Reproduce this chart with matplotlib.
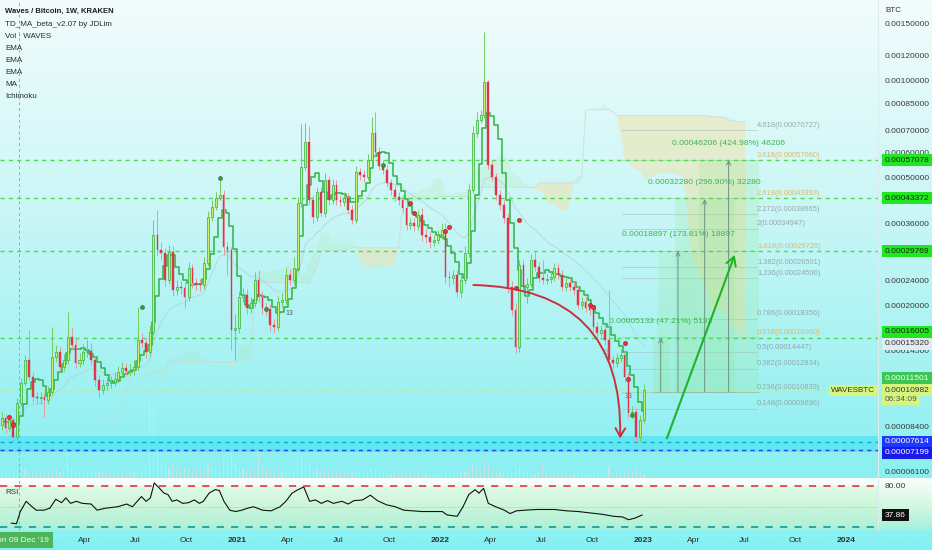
import numpy as np
import pandas as pd
import matplotlib
matplotlib.use('Agg')
import matplotlib.pyplot as plt
import matplotlib.dates as mdates
import matplotlib.transforms as mtransforms
from matplotlib.colors import to_rgb
from matplotlib.patches import Rectangle

# ---------------- data (candle prices in satoshi = 1e-8 BTC) ----------------
first_week = '2019-11-04'
first_open = 8600
closes = [
    9020, 8400, 8890, 7880, 10040, 11580, 13650, 12090, 10480, 10400,
    10450, 10260, 10860, 13950, 14460, 12980, 13650, 16090, 15200, 13360,
    13650, 14460, 14560, 13650, 11830, 11020, 11410, 11580, 11670, 11920,
    12530, 12890, 12620, 12710, 12980, 15750, 15420, 14460, 16680, 33390,
    29990, 29350, 24200, 29560, 22530, 23020, 22860, 21430, 26370, 23690,
    23400, 23350, 27330, 37970, 40790, 43500, 44440, 30640, 29990, 16920,
    17200, 21430, 21740, 19800, 20530, 24200, 21430, 19800, 19700, 17540,
    17300, 20670, 20970, 25080, 24200, 26370, 41970, 54290, 64960, 42880,
    37970, 45410, 39070, 49480, 42880, 47740, 42880, 42270, 43500, 39920,
    37170, 52390, 51270, 50540, 57080, 69200, 60430, 54680, 53140, 48430,
    46060, 43810, 42880, 40500, 35870, 36380, 35500, 38520, 33390, 32920,
    31750, 32210, 33390, 34600, 24720, 24550, 25080, 22210, 24200, 29350,
    46060, 69200, 76000, 78500, 99670, 55080, 50540, 44440, 41380, 37700,
    23020, 19520, 14980, 26950, 23020, 23500, 27920, 26560, 24550, 24200,
    24370, 24720, 26370, 25080, 23020, 23690, 23020, 22530, 20230, 20670,
    19800, 19520, 17300, 16560, 16920, 15750, 13650, 13360, 13850, 14150,
    12090, 9350, 9400, 7880, 8890, 10982]
highs = [
    9400, 9300, 9200, 9100, 10400, 12000, 14200, 16920, 12500, 10900,
    10900, 10800, 11300, 17300, 15200, 15000, 14300, 19250, 17200, 15900,
    14400, 15300, 15700, 15400, 14100, 12300, 11900, 12100, 12200, 12500,
    13100, 13500, 13400, 13300, 13700, 19980, 16600, 16000, 17500, 37170,
    39920, 31800, 30500, 31000, 30800, 24200, 24000, 23800, 27500, 27200,
    24600, 24300, 28600, 39500, 42800, 45500, 50540, 46000, 31800, 30600,
    19000, 22400, 22800, 22700, 21500, 25600, 26000, 22400, 20600, 20400,
    18300, 21600, 22000, 26400, 26200, 28500, 43800, 73800, 74300, 72700,
    44500, 47000, 47200, 52000, 51000, 50000, 49500, 44500, 45300, 45000,
    41500, 54500, 54000, 53000, 59500, 77700, 80300, 62500, 57000, 55000,
    50000, 47800, 45400, 44300, 42000, 37800, 37800, 40000, 40500, 34800,
    34200, 33500, 34700, 36500, 36300, 25800, 26000, 26000, 25000, 30800,
    48000, 73000, 80500, 81500, 142500, 101500, 57000, 52000, 46000, 43000,
    39000, 24000, 20500, 28000, 28000, 24500, 29200, 29500, 27500, 27900,
    25300, 25600, 27400, 27300, 25900, 24600, 24500, 24000, 23300, 21500,
    21400, 20400, 20100, 17900, 17500, 17500, 22530, 14200, 14400, 14800,
    14700, 12500, 9800, 9700, 9200, 11500]
lows = [
    8300, 8100, 8200, 7600, 7700, 9800, 11300, 11800, 10100, 10000,
    10000, 9080, 10000, 10600, 13500, 12500, 12600, 13300, 14700, 12900,
    13000, 13200, 14000, 13200, 11300, 10410, 10700, 11000, 11200, 11300,
    11600, 12200, 12200, 12200, 12300, 12700, 14900, 13900, 14000, 16300,
    28800, 28000, 23200, 23500, 21600, 21800, 21900, 19800, 20800, 22900,
    22500, 22300, 22700, 26800, 37000, 40000, 42800, 29000, 25000, 14670,
    13650, 16600, 20700, 19000, 19100, 20000, 20700, 19000, 18900, 16800,
    16600, 16800, 20000, 20400, 23300, 23500, 25700, 40800, 53000, 41500,
    36500, 36800, 38000, 38000, 41500, 41600, 41500, 41000, 41000, 38800,
    36000, 36400, 49500, 48900, 49500, 56000, 58500, 53000, 51500, 47000,
    44500, 42500, 41400, 39000, 34500, 34800, 34300, 34500, 32000, 31500,
    30500, 30800, 31200, 32400, 23700, 23000, 23600, 21400, 21200, 23500,
    28500, 45000, 67500, 74500, 77000, 53500, 49000, 43000, 40000, 36500,
    22000, 18800, 14350, 14500, 22000, 20500, 23000, 25800, 23800, 23500,
    23500, 23700, 24000, 24300, 22300, 22300, 22300, 21800, 19600, 19700,
    19200, 18900, 16700, 16000, 16200, 15200, 13200, 12900, 13000, 13500,
    11700, 9000, 9000, 7614, 7650, 8700]
volume = [
    6, 5, 7, 6, 8, 12, 9, 7, 6, 5,
    5, 6, 5, 8, 7, 6, 9, 25, 10, 8,
    7, 6, 5, 6, 8, 7, 6, 5, 6, 5,
    5, 6, 5, 6, 7, 9, 8, 12, 82, 70,
    30, 15, 12, 10, 14, 9, 8, 10, 9, 8,
    7, 8, 9, 14, 12, 10, 9, 20, 18, 25,
    15, 10, 9, 8, 7, 9, 28, 10, 8, 9,
    7, 8, 7, 9, 8, 10, 18, 22, 16, 14,
    10, 9, 8, 7, 8, 7, 6, 6, 5, 6,
    7, 9, 6, 6, 7, 10, 9, 7, 6, 6,
    5, 6, 5, 5, 7, 6, 5, 6, 5, 5,
    5, 5, 4, 5, 8, 6, 5, 5, 6, 7,
    10, 14, 10, 8, 16, 12, 8, 7, 6, 6,
    9, 8, 12, 10, 7, 6, 6, 5, 6, 15,
    6, 5, 5, 5, 5, 5, 4, 5, 6, 5,
    4, 5, 5, 5, 4, 5, 12, 5, 5, 5,
    6, 8, 6, 9, 7, 4]

# RSI (week index from first_week, value)
rsi_week = [2.5, 3.8, 4.8, 6.3, 7.8, 8.9, 10.9, 12.4, 13.9, 15.4, 16.5, 17.7, 19.2, 20.7,
            23.0, 24.5, 26.8, 29.8, 32.1, 33.6, 35.9, 37.1, 38.2, 39.2, 40.4, 41.7, 42.7,
            43.8, 45.0, 46.5, 48.0, 49.5, 50.8, 51.8, 53.3, 54.8, 55.9, 57.1, 58.6, 60.1,
            61.7, 63.2, 64.7, 67.0, 69.2, 71.5, 73.0, 74.6, 76.1, 77.6, 79.1, 80.6, 82.1,
            83.7, 85.2, 87.4, 89.0, 90.5, 92.7, 94.7, 96.5, 98.8, 101.1, 103.3, 105.6,
            107.9, 110.9, 113.2, 114.4, 117.0, 118.5, 120.0, 121.6, 122.6, 123.8, 125.0,
            126.9, 129.1, 130.6, 132.2, 134.5, 137.5, 142.0, 145.1, 148.1, 151.1, 154.2,
            157.2, 159.5, 161.0, 162.5, 164.5]
rsi_value = [26, 25, 43, 58, 50, 45, 45, 48, 61, 56, 63, 55, 58, 55,
             54, 45, 48, 50, 54, 50, 65, 58, 63, 85, 78, 70, 68,
             58, 60, 55, 56, 60, 55, 58, 70, 75, 74, 58, 45, 43,
             45, 48, 50, 45, 44, 50, 58, 70, 75, 79, 58, 60, 55,
             59, 55, 58, 54, 59, 60, 67, 59, 53, 50, 45, 44,
             43, 43, 43, 38, 36, 50, 68, 75, 70, 77, 55,
             50, 45, 40, 44, 45, 46, 46, 44, 43, 41, 39,
             36, 35, 31, 33, 37.86]

# TD setup markers (week index, price in satoshi)
red_dot_week = [2, 3, 105, 106, 114, 115, 132, 133, 151, 152, 160, 161]
red_dot_price = [9080, 8580, 41960, 39070, 34270, 35380, 22860, 37170, 20230, 20000, 15420, 11940]
green_dot_week = [36, 56, 68, 98, 162]
green_dot_price = [19980, 50130, 19670, 55050, 9230]
td13_week = [74, 155, 161]
td13_price = [19100, 14400, 10490]

# drawn levels and tools (BTC)
green_levels = [0.00057078, 0.00043372, 0.00029769, 0.00016005]
support_levels = [0.00007614, 0.00007199]
support_band = (0.0000707, 0.0000794)
last_price = 0.00010982

fib_ratios = ['4.618', '3.618', '2.618', '2.272', '2', '1.618', '1.382', '1.236',
              '0.786', '0.618', '0.5', '0.382', '0.236', '0.148']
fib_prices = ['0.00070727', '0.00057060', '0.00043393', '0.00038665', '0.00034947',
              '0.00029726', '0.00026501', '0.00024506', '0.00018356', '0.00016060',
              '0.00014447', '0.00012834', '0.00010839', '0.00009636']
fib_gold = ['3.618', '2.618', '1.618', '0.618']
fib_span = ('2022-11-24', '2023-07-24')

range_base = 0.00010872
range_tops = [0.00016005, 0.00029769, 0.00043152, 0.00057078]
range_texts = ['0.00005133 (47.21%) 5133', '0.00018897 (173.81%) 18897',
               '0.00032280 (296.90%) 32280', '0.00046206 (424.98%) 46206']
range_dates = ['2023-02-01', '2023-03-04', '2023-04-21', '2023-06-03']
range_half_days = [14, 36, 54, 54]

arc_start = ('2022-03-01', 0.0002335)
arc_end = ('2022-11-20', 0.0000779)
up_start = ('2023-02-12', 0.0000779)
up_end = ('2023-06-14', 0.0002894)

axis_ticks = ['0.00150000', '0.00120000', '0.00100000', '0.00085000', '0.00070000',
              '0.00060000', '0.00050000', '0.00036000', '0.00024000',
              '0.00020000', '0.00014500', '0.00008400', '0.00006100']
tick_dates = ['2020-04-01', '2020-07-01', '2020-10-01', '2021-01-01', '2021-04-01',
              '2021-07-01', '2021-10-01', '2022-01-01', '2022-04-01', '2022-07-01',
              '2022-10-01', '2023-01-01', '2023-04-01', '2023-07-01', '2023-10-01',
              '2024-01-01']
tick_labels = ['Apr', 'Jul', 'Oct', '2021', 'Apr', 'Jul', 'Oct', '2022', 'Apr', 'Jul',
               'Oct', '2023', 'Apr', 'Jul', 'Oct', '2024']
legend_lines = ['TD_MA_beta_v2.07 by JDLim', 'Vol · WAVES', 'EMA', 'EMA', 'EMA', 'MA', 'Ichimoku']

# ---------------- setup ----------------
plt.rcParams['font.family'] = ['Liberation Sans', 'DejaVu Sans']

W, H = 932, 550
MAIN_B, RSI_B = 478, 530
AX_R = 878

fig = plt.figure(figsize=(W / 100, H / 100), dpi=100, facecolor='#86f1f3')

# background gradients
def vgrad(stops, n=256):
    t = np.linspace(0, 1, n)
    pos = [p for p, _ in stops]
    cols = np.array([to_rgb(c) for _, c in stops])
    rgb = np.stack([np.interp(t, pos, cols[:, j]) for j in range(3)], axis=1)
    return rgb[:, None, :]

bg = fig.add_axes([0, 0, 1, 1], zorder=-10)
bg.set_axis_off()
bg.imshow(vgrad([(0, '#f3fcfc'), (0.45, '#c9f6f6'), (1, '#8aeff1')]),
          extent=(0, W, MAIN_B, 0), aspect='auto')
bg.imshow(vgrad([(0, '#fbfffd'), (0.5, '#d6f8e2'), (1, '#a4f1dc')]),
          extent=(0, W, RSI_B, MAIN_B), aspect='auto')
bg.imshow(vgrad([(0, '#8ef2f2'), (1, '#82f0f2')]), extent=(0, W, H, RSI_B), aspect='auto')
bg.plot([AX_R, AX_R], [0, RSI_B], color='#d9eeee', lw=0.8)
bg.set_xlim(0, W)
bg.set_ylim(H, 0)

ax = fig.add_axes([0, 1 - MAIN_B / H, AX_R / W, MAIN_B / H])
ax_rsi = fig.add_axes([0, 1 - RSI_B / H, AX_R / W, (RSI_B - MAIN_B) / H])

px_per_day = 0.5562
anchor = mdates.date2num(pd.Timestamp('2019-12-09'))
xlim = (anchor - 21.1 / px_per_day, anchor + (AX_R - 21.1) / px_per_day)

def d2n(s):
    return mdates.date2num(pd.Timestamp(s))

weeks = pd.date_range(first_week, periods=len(closes), freq='7D')
x = mdates.date2num(weeks)
c = np.array(closes) * 1e-8
o = np.array([first_open] + closes[:-1]) * 1e-8
h = np.array(highs) * 1e-8
l = np.array(lows) * 1e-8
up = c >= o

ax.set_yscale('log')
ax.set_ylim(5.873e-5, 1.7922e-3)
ax.set_xlim(*xlim)
ax.set_axis_off()

# volume
axv = ax.twinx()
axv.set_ylim(0, MAIN_B)
axv.set_xlim(*xlim)
axv.set_axis_off()
axv.set_zorder(ax.get_zorder() - 1)
axv.bar(x, volume, width=2.0, color='#dbe3e5', alpha=0.7, lw=0)

# ichimoku cloud
hs, ls = pd.Series(h), pd.Series(l)
tenkan = (hs.rolling(9, min_periods=1).max() + ls.rolling(9, min_periods=1).min()) / 2
kijun = (hs.rolling(26, min_periods=1).max() + ls.rolling(26, min_periods=1).min()) / 2
span_a = ((tenkan + kijun) / 2).values
span_b = ((hs.rolling(52, min_periods=1).max() + ls.rolling(52, min_periods=1).min()) / 2).values
x_lead = x + 26 * 7
ax.fill_between(x_lead, span_a, span_b, where=span_a >= span_b, interpolate=True,
                color='#a9e7a2', alpha=0.2, lw=0, zorder=1)
ax.fill_between(x_lead, span_a, span_b, where=span_a < span_b, interpolate=True,
                color='#f2e2a6', alpha=0.5, lw=0, zorder=1)
ax.plot(x_lead, span_b, color='#c9d9d6', lw=0.7, alpha=0.7, zorder=1)

# ema (faint)
ema = pd.Series(c).ewm(span=20, adjust=False).mean()
ax.plot(x, ema, color='#b4cbd2', lw=0.8, alpha=0.6, zorder=2)

# support band and levels
ax.axhspan(*support_band, color='#4fe5f2', alpha=0.75, lw=0, zorder=1)
for lev in green_levels:
    ax.axhline(lev, color='#4fdb4f', lw=1.0, dashes=(3, 3), zorder=3)
ax.axhline(support_levels[0], color='#1ba9cf', lw=1.0, dashes=(3, 3), zorder=3)
ax.axhline(support_levels[1], color='#2740e6', lw=1.0, dashes=(3, 3), zorder=3)
ax.axhline(last_price, color='#c6ee72', lw=0.8, dashes=(1, 2), zorder=3)

# crosshair
for a in (ax, ax_rsi):
    a.axvline(anchor - 3, color='#9aa9aa', lw=0.7, dashes=(3, 3), zorder=2)

# fib extension
fx0, fx1 = d2n(fib_span[0]), d2n(fib_span[1])
for r, p in zip(fib_ratios, fib_prices):
    pv = float(p)
    ax.plot([fx0, fx1], [pv, pv], color='#9fb3b1', lw=0.6, alpha=0.55, zorder=2)
    gold = r in fib_gold
    ax.annotate(f'{r}({p})', xy=(fx1, pv), xytext=(0, 1), textcoords='offset points',
                ha='left', va='bottom', fontsize=5.4,
                color='#e2b35a' if gold else '#8fa3a2', alpha=0.9, zorder=4)

# price range tools
for top, txt, d, hw in zip(range_tops, range_texts, range_dates, range_half_days):
    xc = d2n(d)
    ax.add_patch(Rectangle((xc - hw, range_base), 2 * hw, top - range_base,
                           fc='#8fe68f', ec='none', alpha=0.2, zorder=2))
    ax.plot([xc - hw, xc + hw], [range_base, range_base], color='#8fb0a6', lw=0.5, alpha=0.6, zorder=2)
    ax.annotate('', xy=(xc, top), xytext=(xc, range_base),
                arrowprops=dict(arrowstyle='->,head_length=0.3,head_width=0.15',
                                color='#6f9187', lw=0.7, shrinkA=0, shrinkB=0), zorder=3)
    ax.annotate(txt, xy=(xc, top), xytext=(0, 12), textcoords='offset points',
                ha='center', va='center', fontsize=6.1, color='#3fb450', zorder=5)

# TD MA step line
td_line = pd.Series((h + l) / 2).rolling(5, min_periods=1).mean()
ax.step(x, td_line, where='mid', color='#2fb344', lw=1.1, zorder=4)

# candles
ax.vlines(x[up], l[up], h[up], color='#74cc5e', lw=0.7, zorder=5)
ax.vlines(x[~up], l[~up], h[~up], color='#e29aa3', lw=0.7, zorder=5)
bot = np.minimum(o, c)
hgt = np.maximum(np.abs(c - o), bot * 0.01)
ax.bar(x[up], hgt[up], bottom=bot[up], width=3.6, color='#c9f06a',
       edgecolor='#3db548', linewidth=0.55, zorder=6)
ax.bar(x[~up], hgt[~up], bottom=bot[~up], width=3.0, color='#e0344a',
       edgecolor='#e0344a', linewidth=0.3, zorder=6)

# TD markers
w0 = mdates.date2num(pd.Timestamp(first_week))
ax.scatter(w0 + np.array(red_dot_week) * 7, np.array(red_dot_price) * 1e-8, s=9,
           c='#e8343f', edgecolors='#8a2020', linewidths=0.4, zorder=7)
ax.scatter(w0 + np.array(green_dot_week) * 7, np.array(green_dot_price) * 1e-8, s=8,
           c='#3c9a3c', edgecolors='#2a6a2a', linewidths=0.4, zorder=7)
for wk, pp, col in zip(td13_week, td13_price, ['#556060', '#9aa8a8', '#d0404a']):
    ax.text(w0 + wk * 7, pp * 1e-8, '13', fontsize=5.0, color=col, ha='center', va='center', zorder=7)

# drawn arrows
ax.annotate('', xy=(d2n(arc_end[0]), arc_end[1]), xytext=(d2n(arc_start[0]), arc_start[1]),
            arrowprops=dict(arrowstyle='->,head_length=0.6,head_width=0.35', color='#c8323f',
                            lw=1.4, connectionstyle='arc3,rad=-0.5', shrinkA=0, shrinkB=0),
            zorder=8)
ax.annotate('', xy=(d2n(up_end[0]), up_end[1]), xytext=(d2n(up_start[0]), up_start[1]),
            arrowprops=dict(arrowstyle='->,head_length=0.6,head_width=0.35', color='#1db32b',
                            lw=1.5, shrinkA=0, shrinkB=0), zorder=8)

# legend text top-left
fig.text(5 / W, 1 - 11 / H, 'Waves / Bitcoin, 1W, KRAKEN', fontsize=5.5, fontweight='bold',
         color='#1e1e1e', va='center', ha='left')
for n, t in enumerate(legend_lines):
    fig.text(5 / W, 1 - (24 + 12 * n) / H, t, fontsize=5.8, color='#2a2a2a',
             va='center', ha='left')

# right price axis
tr = mtransforms.blended_transform_factory(ax.transAxes, ax.transData)
fig.text(885 / W, 1 - 10 / H, 'BTC', fontsize=5.8, color='#333333', va='center')
for t in axis_ticks:
    ax.annotate(t, xy=(1.0, float(t)), xycoords=tr, xytext=(5, 0), textcoords='offset points',
                ha='left', va='center', fontsize=6.0, color='#3a3a3a',
                annotation_clip=False)

def tag(text, price, fc, tc, dy=0):
    ax.annotate(text, xy=(1.0, price), xycoords=tr, xytext=(5, dy * 0.72),
                textcoords='offset points', ha='left', va='center', fontsize=6.0,
                color=tc, annotation_clip=False, zorder=10,
                bbox=dict(boxstyle='square,pad=0.3', fc=fc, ec='none'))

for lev in green_levels[:3]:
    tag(f'{lev:.8f}', lev, '#22e622', '#0f2a0f')
tag(f'{green_levels[3]:.8f}', green_levels[3], '#22e622', '#0f2a0f', dy=6)
tag('0.00015320', 0.00015320, '#e2ebf2', '#333333')
tag('0.00011501', 0.00011501, '#3cc653', '#f4fff4', dy=6)
tag(f'{last_price:.8f}', last_price, '#d6f57c', '#333333')
tag('06:34:09', last_price, '#d6f57c', '#555555', dy=-9)
tag(f'{support_levels[0]:.8f}', support_levels[0], '#1f38ff', '#ffffff')
tag(f'{support_levels[1]:.8f}', support_levels[1], '#1a1ae6', '#ffffff', dy=-3)
ax.annotate('WAVESBTC', xy=(1.0, last_price), xycoords=tr, xytext=(-2, 0),
            textcoords='offset points', ha='right', va='center', fontsize=5.8,
            color='#333333', annotation_clip=False, zorder=10,
            bbox=dict(boxstyle='square,pad=0.3', fc='#d6f57c', ec='none'))

# RSI pane
ax_rsi.set_xlim(*xlim)
ax_rsi.set_ylim(15.9, 92.2)
ax_rsi.set_axis_off()
ax_rsi.axhspan(20, 80, color='#bdf3c8', alpha=0.3, lw=0)
ax_rsi.axhline(80, color='#e8414f', lw=1.3, dashes=(4, 4))
ax_rsi.axhline(20, color='#1f9e9e', lw=1.3, dashes=(4, 4))
ax_rsi.axhline(50, color='#9fb0ae', lw=0.6, dashes=(1, 2))
ax_rsi.plot(w0 + np.array(rsi_week) * 7, rsi_value, color='#111111', lw=0.8)
ax_rsi.text(5 / AX_R, 0.72, 'RSI', transform=ax_rsi.transAxes, fontsize=5.8,
            color='#333333', va='center')
trr = mtransforms.blended_transform_factory(ax_rsi.transAxes, ax_rsi.transData)
ax_rsi.annotate('80.00', xy=(1.0, 80), xycoords=trr, xytext=(5, 0), textcoords='offset points',
                ha='left', va='center', fontsize=6.0, color='#3a3a3a', annotation_clip=False)
ax_rsi.annotate(f'{rsi_value[-1]:.2f}', xy=(1.0, rsi_value[-1]), xycoords=trr, xytext=(5, 0),
                textcoords='offset points', ha='left', va='center', fontsize=6.0,
                color='#ffffff', annotation_clip=False,
                bbox=dict(boxstyle='square,pad=0.35', fc='#111111', ec='none'))

# time axis
trt = mtransforms.blended_transform_factory(ax_rsi.transData, fig.transFigure)
for d, lab in zip(tick_dates, tick_labels):
    ax_rsi.text(d2n(d), 1 - 540 / H, lab, transform=trt, ha='center', va='center',
                fontsize=6.0, color='#2e2e2e',
                fontweight='bold' if lab.isdigit() else 'normal', clip_on=False)
ax_rsi.text(anchor - 3, 1 - 540 / H, "Mon 09 Dec '19", transform=trt, ha='center', va='center',
            fontsize=6.0, color='#eaffea', clip_on=False,
            bbox=dict(boxstyle='square,pad=0.5', fc='#4fb55a', ec='none'))

fig.savefig('out.png', dpi=100, facecolor=fig.get_facecolor())
